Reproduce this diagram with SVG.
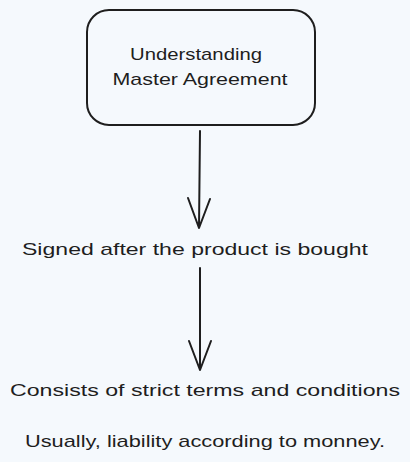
<svg xmlns="http://www.w3.org/2000/svg" width="410" height="462" viewBox="0 0 410 462">
<style>
.t{font-family:"Liberation Sans","DejaVu Sans",sans-serif;font-size:17px;fill:#1e1e1e}
.s{fill:none;stroke:#1e1e1e;stroke-width:2;stroke-linecap:round;stroke-linejoin:round}
</style>
<rect width="410" height="462" fill="#f5f9fd"/>
<g id="node-master">
<rect class="s" x="87" y="10" width="228" height="115" rx="22"/>
<text class="t" x="196" y="60" text-anchor="middle" textLength="132" lengthAdjust="spacingAndGlyphs">Understanding</text>
<text class="t" x="200" y="85" text-anchor="middle" textLength="175" lengthAdjust="spacingAndGlyphs">Master Agreement</text>
</g>
<g id="node-signed">
<text class="t" x="195" y="255" text-anchor="middle" textLength="346" lengthAdjust="spacingAndGlyphs">Signed after the product is bought</text>
</g>
<g id="node-consists">
<text class="t" x="205" y="396" text-anchor="middle" textLength="390" lengthAdjust="spacingAndGlyphs">Consists of strict terms and conditions</text>
</g>
<g id="node-usually">
<text class="t" x="205" y="447" text-anchor="middle" textLength="360" lengthAdjust="spacingAndGlyphs">Usually, liability according to monney.</text>
</g>
<g id="connectors">
<path class="s" d="M200 131 L199 228 M188 198 L199 228 L210 199"/>
<path class="s" d="M200 268 L200 370 M189 341 L200 370 L211 341"/>
</g>
</svg>
